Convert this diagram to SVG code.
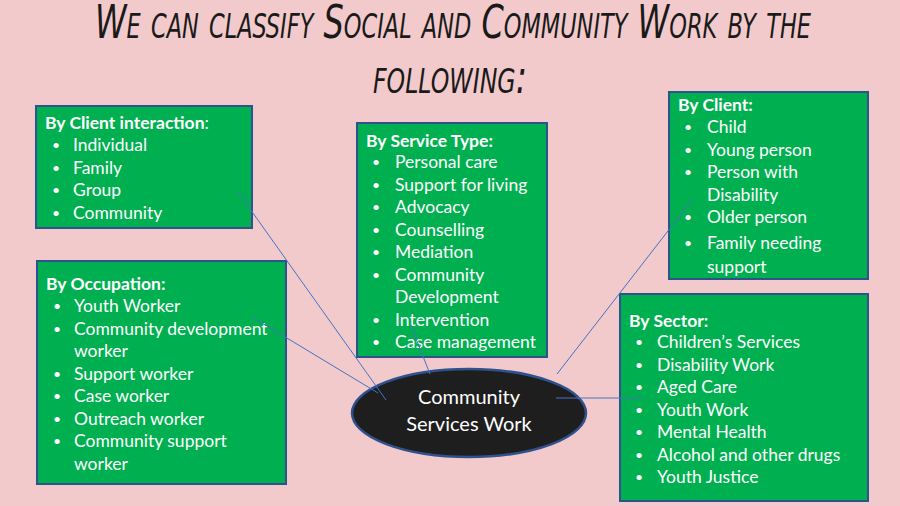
<svg xmlns="http://www.w3.org/2000/svg" width="900" height="506" viewBox="0 0 900 506">
<style>
.bg{fill:#F3CACB}
.box{fill:#00B050;stroke:#2F528F;stroke-width:2}
.t{font-family:Lato,"Liberation Sans",sans-serif;font-size:17.5px;fill:#FFFFFF}
.b{font-family:Lato,"Liberation Sans",sans-serif;font-size:14px;fill:#FFFFFF}
.h{font-weight:bold}
.title{font-family:"DejaVu Sans Condensed","DejaVu Sans",sans-serif;font-style:italic;font-variant:small-caps;fill:#1a1a1a}
.hub{fill:#1E1E1E;stroke:#2F528F;stroke-width:2.5}
.ht{font-family:Lato,"Liberation Sans",sans-serif;font-size:20px;fill:#FFFFFF;text-anchor:middle}
.c{stroke:#4472C4;stroke-width:1;fill:none}
</style>
<rect class="bg" x="0" y="0" width="900" height="506"/>
<g id="title">
<text class="title" x="453" y="38" font-size="47" text-anchor="middle" textLength="716" lengthAdjust="spacingAndGlyphs">We can classify Social and Community Work by the</text>
<text class="title" x="450" y="93" font-size="47" text-anchor="middle" textLength="154" lengthAdjust="spacingAndGlyphs">following:</text>
</g>
<g id="client-interaction">
<rect class="box" x="36" y="106" width="216" height="122"/>
<text class="t" x="45" y="129"><tspan class="h">By Client interaction</tspan>:</text>
<text class="b" x="52" y="150">•</text><text class="t" x="73" y="151">Individual</text>
<text class="b" x="52" y="173">•</text><text class="t" x="73" y="174">Family</text>
<text class="b" x="52" y="195">•</text><text class="t" x="73" y="196">Group</text>
<text class="b" x="52" y="218">•</text><text class="t" x="73" y="219">Community</text>
</g>
<g id="occupation">
<rect class="box" x="37" y="261" width="249" height="223"/>
<text class="t h" x="46" y="290">By Occupation:</text>
<text class="b" x="53" y="311">•</text><text class="t" x="74" y="312">Youth Worker</text>
<text class="b" x="53" y="334">•</text><text class="t" x="74" y="335">Community development</text>
<text class="t" x="74" y="357">worker</text>
<text class="b" x="53" y="379">•</text><text class="t" x="74" y="380">Support worker</text>
<text class="b" x="53" y="401">•</text><text class="t" x="74" y="402">Case worker</text>
<text class="b" x="53" y="424">•</text><text class="t" x="74" y="425">Outreach worker</text>
<text class="b" x="53" y="446">•</text><text class="t" x="74" y="447">Community support</text>
<text class="t" x="74" y="470">worker</text>
</g>
<g id="service-type">
<rect class="box" x="357" y="123" width="190" height="234"/>
<text class="t h" x="366" y="147">By Service Type:</text>
<text class="b" x="372" y="167">•</text><text class="t" x="395" y="168">Personal care</text>
<text class="b" x="372" y="190">•</text><text class="t" x="395" y="191">Support for living</text>
<text class="b" x="372" y="212">•</text><text class="t" x="395" y="213">Advocacy</text>
<text class="b" x="372" y="235">•</text><text class="t" x="395" y="236">Counselling</text>
<text class="b" x="372" y="257">•</text><text class="t" x="395" y="258">Mediation</text>
<text class="b" x="372" y="280">•</text><text class="t" x="395" y="281">Community</text>
<text class="t" x="395" y="303">Development</text>
<text class="b" x="372" y="325">•</text><text class="t" x="395" y="326">Intervention</text>
<text class="b" x="372" y="347">•</text><text class="t" x="395" y="348">Case management</text>
</g>
<g id="client">
<rect class="box" x="669" y="92" width="199" height="187"/>
<text class="t h" x="678" y="111">By Client:</text>
<text class="b" x="684" y="132">•</text><text class="t" x="707" y="133">Child</text>
<text class="b" x="684" y="155">•</text><text class="t" x="707" y="156">Young person</text>
<text class="b" x="684" y="177">•</text><text class="t" x="707" y="178">Person with</text>
<text class="t" x="707" y="201">Disability</text>
<text class="b" x="684" y="222">•</text><text class="t" x="707" y="223">Older person</text>
<text class="b" x="684" y="248">•</text><text class="t" x="707" y="249">Family needing</text>
<text class="t" x="707" y="273">support</text>
</g>
<g id="sector">
<rect class="box" x="620" y="294" width="248" height="207"/>
<text class="t h" x="629" y="327">By Sector:</text>
<text class="b" x="635" y="347">•</text><text class="t" x="657" y="348">Children’s Services</text>
<text class="b" x="635" y="370">•</text><text class="t" x="657" y="371">Disability Work</text>
<text class="b" x="635" y="392">•</text><text class="t" x="657" y="393">Aged Care</text>
<text class="b" x="635" y="415">•</text><text class="t" x="657" y="416">Youth Work</text>
<text class="b" x="635" y="437">•</text><text class="t" x="657" y="438">Mental Health</text>
<text class="b" x="635" y="460">•</text><text class="t" x="657" y="461">Alcohol and other drugs</text>
<text class="b" x="635" y="482">•</text><text class="t" x="657" y="483">Youth Justice</text>
</g>
<g id="hub">
<ellipse class="hub" cx="469" cy="413" rx="117" ry="44"/>
<text class="ht" x="469" y="404">Community</text>
<text class="ht" x="469" y="431">Services Work</text>
</g>
<g id="connectors">
<line class="c" x1="238" y1="192" x2="386" y2="400"/>
<line class="c" x1="252" y1="317" x2="378" y2="393"/>
<line class="c" x1="411" y1="326" x2="430" y2="374"/>
<line class="c" x1="692" y1="200" x2="557" y2="374"/>
<line class="c" x1="556" y1="398" x2="642" y2="398"/>
</g>
</svg>
